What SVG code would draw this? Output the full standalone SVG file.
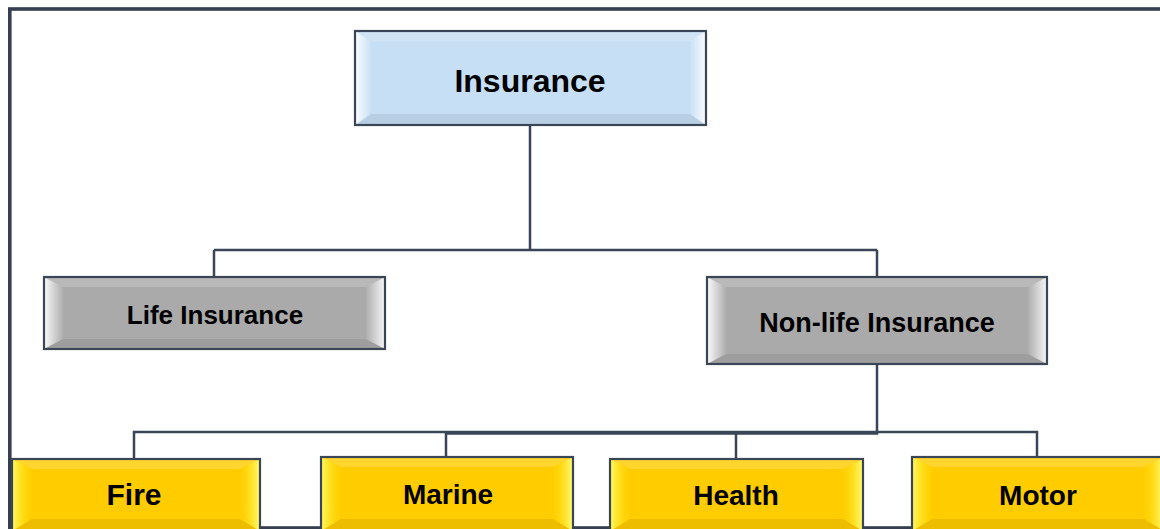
<svg xmlns="http://www.w3.org/2000/svg" width="1160" height="529" viewBox="0 0 1160 529">
<style>
.border{fill:none;stroke:#3a4556;stroke-width:2.2}
.lbl{font-family:"Liberation Sans",Arial,sans-serif;font-weight:bold;fill:#000;text-anchor:middle}
.conn{fill:none;stroke:#3a4557;stroke-width:2.5;stroke-linejoin:miter}
.top{fill:#fff;fill-opacity:0.18}
.bot{fill:#000;fill-opacity:0.07}
.lft{fill:url(#gl)}
.rgt{fill:url(#gr)}
</style>
<defs>
<linearGradient id="gl" x1="0" y1="0" x2="1" y2="0">
<stop offset="0" stop-color="#fff" stop-opacity="0.95"/>
<stop offset="1" stop-color="#fff" stop-opacity="0.05"/>
</linearGradient>
<linearGradient id="gr" x1="0" y1="0" x2="1" y2="0">
<stop offset="0" stop-color="#fff" stop-opacity="0.05"/>
<stop offset="1" stop-color="#fff" stop-opacity="0.9"/>
</linearGradient>
<linearGradient id="glY" x1="0" y1="0" x2="1" y2="0">
<stop offset="0" stop-color="#ffff70" stop-opacity="0.9"/>
<stop offset="1" stop-color="#ffe000" stop-opacity="0.1"/>
</linearGradient>
<linearGradient id="grY" x1="0" y1="0" x2="1" y2="0">
<stop offset="0" stop-color="#ffe000" stop-opacity="0.1"/>
<stop offset="1" stop-color="#ffff80" stop-opacity="0.95"/>
</linearGradient>
</defs>
<rect width="1160" height="529" fill="#fff"/>
<!-- frame -->
<rect x="9.8" y="9" width="1160" height="519" fill="none" stroke="#353f50" stroke-width="3.6"/>

<g id="connectors">
<path class="conn" d="M530,126 V250 M214,250 H877 M214,250 V277 M877,250 V277"/>
<path class="conn" stroke-width="3.5" d="M877,364 V433.5 H446"/>
<path class="conn" d="M134,458 V432 H1037 V457 M446,432 V457 M736,434 V459"/>
</g>

<g id="n-insurance">
<rect x="355" y="31" width="351" height="94" fill="#c6dff5"/>
<polygon class="top" points="355,31 706,31 690,41 371,41"/>
<polygon class="bot" points="355,125 706,125 690,114 371,114"/>
<polygon class="lft" points="355,31 371,41 371,114 355,125"/>
<polygon class="rgt" points="706,31 690,41 690,114 706,125"/>
<rect class="border" x="355" y="31" width="351" height="94"/>
<text class="lbl" x="530" y="92" font-size="32">Insurance</text>
</g>

<g id="n-life">
<rect x="44" y="277" width="341" height="72" fill="#aaaaaa"/>
<polygon class="top" points="44,277 385,277 366,287 63,287"/>
<polygon class="bot" points="44,349 385,349 366,339 63,339"/>
<polygon class="lft" points="44,277 63,287 63,339 44,349"/>
<polygon class="rgt" points="385,277 366,287 366,339 385,349"/>
<rect class="border" x="44" y="277" width="341" height="72"/>
<text class="lbl" x="215" y="324" font-size="26">Life Insurance</text>
</g>

<g id="n-nonlife">
<rect x="707" y="277" width="340" height="87" fill="#aaaaaa"/>
<polygon class="top" points="707,277 1047,277 1028,287 726,287"/>
<polygon class="bot" points="707,364 1047,364 1028,354 726,354"/>
<polygon class="lft" points="707,277 726,287 726,354 707,364"/>
<polygon class="rgt" points="1047,277 1028,287 1028,354 1047,364"/>
<rect class="border" x="707" y="277" width="340" height="87"/>
<text class="lbl" x="877" y="332" font-size="27">Non-life Insurance</text>
</g>

<g id="n-fire">
<rect x="12" y="459" width="248" height="72" fill="#ffcc00"/>
<polygon class="top" points="12,459 260,459 240,469 32,469"/>
<polygon class="bot" points="12,531 260,531 240,519 32,519"/>
<polygon fill="url(#glY)" points="12,459 32,469 32,519 12,531"/>
<polygon fill="url(#grY)" points="260,459 240,469 240,519 260,531"/>
<rect class="border" x="12" y="459" width="248" height="72"/>
<text class="lbl" x="134" y="505" font-size="30">Fire</text>
</g>

<g id="n-marine">
<rect x="321" y="457" width="252" height="74" fill="#ffcc00"/>
<polygon class="top" points="321,457 573,457 553,467 341,467"/>
<polygon class="bot" points="321,531 573,531 553,519 341,519"/>
<polygon fill="url(#glY)" points="321,457 341,467 341,519 321,531"/>
<polygon fill="url(#grY)" points="573,457 553,467 553,519 573,531"/>
<rect class="border" x="321" y="457" width="252" height="74"/>
<text class="lbl" x="448" y="504" font-size="28">Marine</text>
</g>

<g id="n-health">
<rect x="610" y="459" width="253" height="72" fill="#ffcc00"/>
<polygon class="top" points="610,459 863,459 843,469 630,469"/>
<polygon class="bot" points="610,531 863,531 843,519 630,519"/>
<polygon fill="url(#glY)" points="610,459 630,469 630,519 610,531"/>
<polygon fill="url(#grY)" points="863,459 843,469 843,519 863,531"/>
<rect class="border" x="610" y="459" width="253" height="72"/>
<text class="lbl" x="736" y="505" font-size="28">Health</text>
</g>

<g id="n-motor">
<rect x="912" y="457" width="252" height="74" fill="#ffcc00"/>
<polygon class="top" points="912,457 1164,457 1144,467 932,467"/>
<polygon class="bot" points="912,531 1164,531 1144,519 932,519"/>
<polygon fill="url(#glY)" points="912,457 932,467 932,519 912,531"/>
<polygon fill="url(#grY)" points="1164,457 1144,467 1144,519 1164,531"/>
<rect class="border" x="912" y="457" width="252" height="74"/>
<text class="lbl" x="1038" y="505" font-size="28">Motor</text>
</g>
</svg>
